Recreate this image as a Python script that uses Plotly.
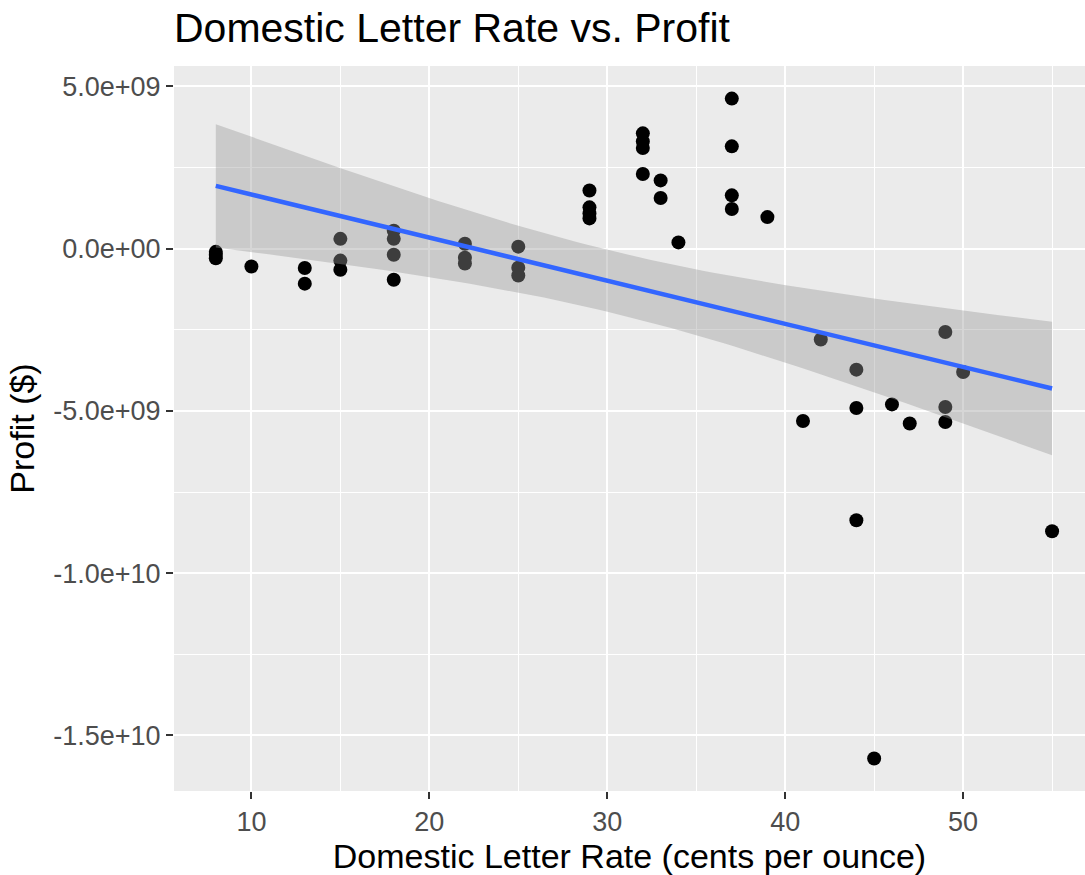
import numpy as np
import plotly.graph_objects as go

# Data
rate_cents = [8, 8, 8, 10, 13, 13, 15, 15, 15, 18, 18, 18, 18,
              22, 22, 22, 25, 25, 25, 29, 29, 29, 29,
              32, 32, 32, 32, 33, 33, 34, 37, 37, 37, 37, 39,
              41, 42, 44, 44, 44, 45, 46, 47, 49, 49, 49, 50, 55]
profit_billions = [-0.10, -0.20, -0.30, -0.55, -0.60, -1.08, 0.30, -0.37, -0.65,
                   0.55, 0.30, -0.19, -0.96,
                   0.15, -0.28, -0.46, 0.06, -0.59, -0.83,
                   1.79, 1.27, 1.08, 0.93,
                   3.55, 3.30, 3.10, 2.30, 2.10, 1.56, 0.19,
                   4.62, 3.15, 1.64, 1.22, 0.97,
                   -5.31, -2.80, -3.73, -4.91, -8.37, -15.71, -4.80, -5.39,
                   -2.57, -4.88, -5.34, -3.80, -8.71]
y_tick_vals = [-1.5e10, -1.0e10, -5.0e9, 0.0, 5.0e9]
y_tick_text = ["-1.5e+10", "-1.0e+10", "-5.0e+09", "0.0e+00", "5.0e+09"]
x_tick_vals = [10, 20, 30, 40, 50]

x = np.array(rate_cents, dtype=float)
y = np.array(profit_billions, dtype=float) * 1e9

# Linear fit with 95% confidence band (like geom_smooth(method="lm"))
n = len(x)
slope, intercept = np.polyfit(x, y, 1)
resid = y - (slope * x + intercept)
s = np.sqrt(np.sum(resid ** 2) / (n - 2))
xbar = x.mean()
sxx = np.sum((x - xbar) ** 2)
t_crit = 2.0129  # t(0.975, df=46)
xs = np.linspace(x.min(), x.max(), 80)
fit = slope * xs + intercept
se = s * np.sqrt(1.0 / n + (xs - xbar) ** 2 / sxx)
upper = fit + t_crit * se
lower = fit - t_crit * se

fig = go.Figure()
fig.add_trace(go.Scatter(x=x, y=y, mode="markers",
                         marker=dict(size=14, color="black", line=dict(width=0)),
                         showlegend=False))
fig.add_trace(go.Scatter(x=np.concatenate([xs, xs[::-1]]),
                         y=np.concatenate([upper, lower[::-1]]),
                         mode="lines", fill="toself",
                         fillcolor="rgba(153,153,153,0.4)",
                         line=dict(width=0), showlegend=False, hoverinfo="skip"))
fig.add_trace(go.Scatter(x=xs, y=fit, mode="lines",
                         line=dict(color="#3366FF", width=4.5),
                         showlegend=False))

font_family = "Liberation Sans, Arial, Helvetica, sans-serif"
fig.update_layout(
    width=1085, height=875,
    margin=dict(l=174, r=0, t=66, b=84),
    paper_bgcolor="white", plot_bgcolor="#EBEBEB",
    font=dict(family=font_family, color="black"),
    title=dict(text="Domestic Letter Rate vs. Profit", x=0, xref="paper",
               xanchor="left", y=0.968, yanchor="middle",
               font=dict(size=41, color="black")),
)
fig.update_xaxes(
    range=[5.65, 56.85], tickvals=x_tick_vals,
    showgrid=True, gridcolor="white", gridwidth=2.4,
    minor=dict(dtick=5, tick0=5, showgrid=True, gridcolor="white", gridwidth=1.2, ticklen=0),
    ticks="outside", ticklen=7, tickwidth=2, tickcolor="#333333",
    tickfont=dict(size=27, color="#4D4D4D"),
    zeroline=False, showline=False,
    title=dict(text="Domestic Letter Rate (cents per ounce)", font=dict(size=34, color="black"), standoff=6),
)
fig.update_yaxes(
    range=[-16.71e9, 5.625e9], tickvals=y_tick_vals, ticktext=y_tick_text,
    showgrid=True, gridcolor="white", gridwidth=2.4,
    minor=dict(dtick=2.5e9, tick0=0, showgrid=True, gridcolor="white", gridwidth=1.2, ticklen=0),
    ticks="outside", ticklen=7, tickwidth=2, tickcolor="#333333",
    tickfont=dict(size=27, color="#4D4D4D"),
    zeroline=False, showline=False,
    title=dict(text="Profit ($)", font=dict(size=34, color="black"), standoff=8),
)

fig.write_html("out.html")
